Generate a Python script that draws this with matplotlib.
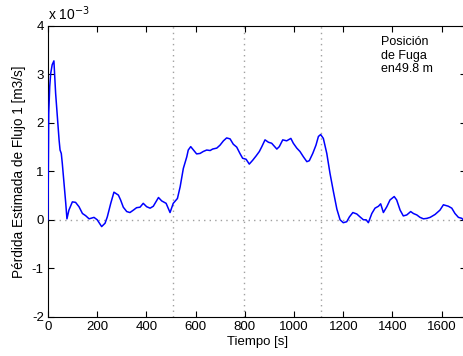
import matplotlib
matplotlib.use("Agg")
import matplotlib.pyplot as plt

plt.rcParams['font.family'] = ['Liberation Sans', 'DejaVu Sans']

# time [s]
t = [0, 3, 7, 11, 17, 24, 31, 38, 45, 49, 54, 58, 65, 72, 77, 85, 99, 112, 126, 140,
     153, 167, 187, 200, 218, 232, 241, 255, 268, 286, 295, 306, 320, 333, 347, 360,
     374, 387, 401, 415, 428, 449, 462, 480, 496, 509, 526, 537, 550, 564, 570, 580,
     591, 604, 618, 631, 645, 659, 669, 686, 699, 713, 726, 740, 753, 767, 780, 791,
     805, 818, 832, 846, 859, 869, 882, 896, 909, 930, 940, 954, 970, 987, 997, 1011,
     1024, 1038, 1052, 1062, 1076, 1089, 1099, 1108, 1119, 1133, 1146, 1160, 1174,
     1187, 1200, 1214, 1225, 1239, 1255, 1268, 1282, 1293, 1302, 1316, 1329, 1343,
     1352, 1363, 1377, 1390, 1407, 1417, 1431, 1444, 1458, 1474, 1485, 1499, 1512,
     1526, 1540, 1553, 1573, 1593, 1607, 1627, 1641, 1654, 1668, 1682, 1690]
# estimated leak flow [x 1e-3 m3/s]
q = [0.0, 2.2, 2.75, 3.02, 3.2, 3.28, 2.61, 2.13, 1.65, 1.44, 1.37, 1.17, 0.76, 0.35,
     0.02, 0.2, 0.37, 0.36, 0.27, 0.13, 0.085, 0.02, 0.05, 0.0, -0.14, -0.07, 0.06,
     0.34, 0.57, 0.51, 0.41, 0.26, 0.17, 0.15, 0.2, 0.25, 0.26, 0.34, 0.27, 0.24, 0.28,
     0.46, 0.39, 0.34, 0.15, 0.34, 0.44, 0.68, 1.06, 1.30, 1.44, 1.51, 1.44, 1.36,
     1.37, 1.41, 1.44, 1.43, 1.46, 1.48, 1.54, 1.63, 1.69, 1.67, 1.56, 1.50, 1.37,
     1.27, 1.25, 1.15, 1.23, 1.32, 1.41, 1.51, 1.65, 1.60, 1.58, 1.46, 1.51, 1.65,
     1.63, 1.68, 1.58, 1.48, 1.41, 1.30, 1.20, 1.22, 1.37, 1.54, 1.72, 1.76, 1.68,
     1.37, 0.96, 0.58, 0.22, 0.0, -0.06, -0.04, 0.06, 0.15, 0.12, 0.06, 0.0, 0.0,
     -0.06, 0.13, 0.24, 0.28, 0.33, 0.15, 0.27, 0.41, 0.48, 0.41, 0.2, 0.08, 0.1,
     0.17, 0.13, 0.1, 0.05, 0.02, 0.03, 0.05, 0.11, 0.2, 0.31, 0.28, 0.24, 0.13,
     0.05, 0.03, -0.02]

vlines = [508, 795, 1110]
xticks = [0, 200, 400, 600, 800, 1000, 1200, 1400, 1600]
yticks = [-2, -1, 0, 1, 2, 3, 4]

fig = plt.figure(figsize=(4.63, 3.56), dpi=100)
ax = fig.add_axes([48/463, 1 - 316.7/356, (466.3 - 48)/463, (316.7 - 26)/356])

for xv in vlines:
    ax.axvline(xv, color='#a0a0a0', linestyle=(0, (1, 3)), linewidth=1.0, zorder=1)
ax.axhline(0, color='#a0a0a0', linestyle=(0, (1, 3)), linewidth=1.0, zorder=1)

ax.plot(t, q, color='#0000ff', linewidth=1.1, zorder=3)

ax.set_xlim(0, 1700)
ax.set_ylim(-2, 4)
ax.set_xticks(xticks)
ax.set_yticks(yticks)
ax.set_yticklabels([str(v) for v in yticks])
ax.tick_params(direction='in', top=True, right=True, length=4, width=0.8,
               labelsize=9.5, pad=3)
for s in ax.spines.values():
    s.set_linewidth(0.8)

ax.set_xlabel('Tiempo [s]', fontsize=9.5, labelpad=2)
ax.set_ylabel('Pérdida Estimada de Flujo 1 [m3/s]', fontsize=9.8, labelpad=4)

fig.text(48/463, 1 - 20/356, r'x 10$^{-3}$', fontsize=10, ha='left', va='baseline')

ax.text(0.795, 0.965, 'Posición\nde Fuga\nen49.8 m', transform=ax.transAxes,
        fontsize=9, ha='left', va='top', linespacing=1.15)

fig.savefig('out.png', dpi=100)
